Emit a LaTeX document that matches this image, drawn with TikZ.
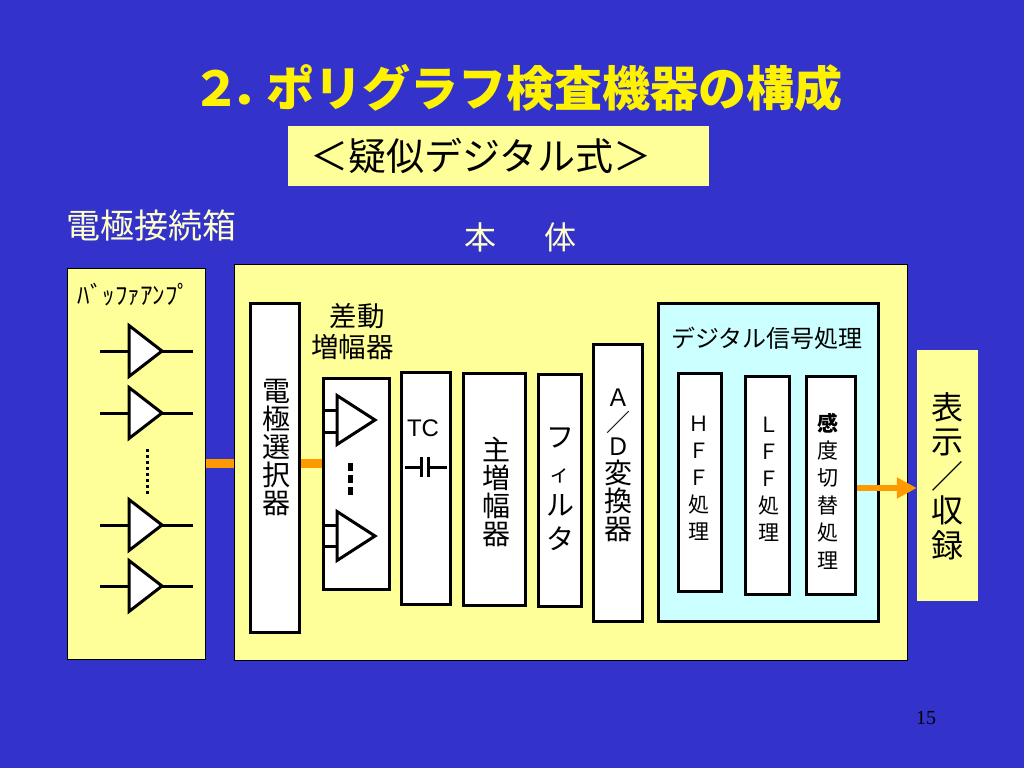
\documentclass[tikz,border=0pt]{standalone}
\usepackage{fontspec}
\setmainfont{Noto Sans CJK JP}
\newfontfamily\pagefont{Liberation Serif}
\newfontfamily\latinfont{Liberation Sans}
\usetikzlibrary{arrows.meta, shapes.geometric, positioning}
\definecolor{slidebg}{HTML}{3333CC}
\definecolor{paleyellow}{HTML}{FFFF99}
\definecolor{palecyan}{HTML}{CCFFFF}
\definecolor{linkorange}{HTML}{FF9900}
\definecolor{headtext}{HTML}{FFFFCC}
\tikzset{
  panel/.style={draw=black,line width=1pt,fill=paleyellow,inner sep=0pt},
  plain panel/.style={fill=paleyellow,inner sep=0pt},
  block/.style={draw=black,line width=3pt,fill=white,inner sep=0pt},
  amp/.style={draw=black,line width=3pt,fill=white,isosceles triangle,isosceles triangle apex angle=70,
    isosceles triangle stretches,inner sep=0pt,anchor=lower side},
  wire/.style={draw=black,line width=3pt},
  link/.style={draw=linkorange,line width=9pt},
  stack/.style 2 args={font=\fontsize{#1}{#2}\selectfont,align=center,inner sep=0pt}
}
\begin{document}
\begin{tikzpicture}[x=1pt,y=-1pt]
  \fill[slidebg] (0,0) rectangle (1024,768);
  % headings
  \node[inner sep=0pt,anchor=west,text=yellow,font=\fontsize{48}{50}\selectfont\bfseries] (title) at (192,88) {２\hspace{-10pt}．\hspace{-12pt}ポリグラフ検査機器の構成};
  \node[plain panel,minimum width=421pt,minimum height=60pt] (modebox) at (498.5,156) {};
  \node[stack={38}{40},anchor=west] (modetext) at (310,156) {＜疑似デジタル式＞};
  \node[stack={34}{36},text=headtext] (elechead) at (151,226) {電極接続箱};
  \node[stack={32}{34},text=headtext] (bodyhead) at (520.5,237) {本\hspace{48pt}体};
  % the two cases
  \node[panel,minimum width=138pt,minimum height=391pt] (elecbox) at (136,463.5) {};
  \node[panel,minimum width=673pt,minimum height=396pt] (bodybox) at (570.5,462) {};
  \node[stack={25}{27}] (buftext) at (134,295) {ﾊﾞｯﾌｧｱﾝﾌﾟ};
  % buffer amplifiers
  \foreach \n/\y in {1/351,2/413,3/525,4/586} {
    \coordinate (bufin\n) at (100,\y);
    \coordinate (bufout\n) at (193,\y);
    \draw[wire] (bufin\n) -- (bufout\n);
    \node[amp,minimum height=33pt,minimum width=51pt] (buf\n) at (127.5,\y) {};
  }
  \coordinate (buftop) at (147,449);
  \coordinate (bufbot) at (147,496);
  \draw[black,line width=3pt,dash pattern=on 3pt off 3pt] (buftop) -- (bufbot);
  % main chain
  \node[block,minimum width=49pt,minimum height=329pt] (selbox) at (275,468) {};
  \node[stack={28}{28}] (seltext) at (276,447) {電\\極\\選\\択\\器};
  \node[stack={27.5}{31}] (difftext) at (352.5,332) {\hspace*{9pt}差動\\増幅器};
  \node[block,minimum width=66pt,minimum height=211pt] (diffbox) at (356.5,484) {};
  \foreach \n/\y/\a/\b in {1/420/410/432,2/536/525/546} {
    \coordinate (diffa\n) at (322,\a);
    \coordinate (diffb\n) at (322,\b);
    \node[amp,minimum height=38pt,minimum width=49pt] (diff\n) at (335.5,\y) {};
    \draw[wire] (diffa\n) -- (diffa\n -| diff\n.lower side);
    \draw[wire] (diffb\n) -- (diffb\n -| diff\n.lower side);
  }
  \coordinate (difftop) at (350,463);
  \coordinate (diffbot) at (350,496);
  \draw[black,line width=5pt,dash pattern=on 8pt off 4pt] (difftop) -- (diffbot);
  \node[block,minimum width=49pt,minimum height=232pt] (tcbox) at (426,488.5) {};
  \node[inner sep=0pt,font=\latinfont\fontsize{24}{26}\selectfont] (tclabel) at (423,428) {TC};
  \coordinate (capa) at (405,467);
  \coordinate (capb) at (421,467);
  \coordinate (capc) at (428,467);
  \coordinate (capd) at (447,467);
  \draw[black,line width=3pt] (capa) -- (capb) (capc) -- (capd);
  \draw[black,line width=3pt] ([yshift=10pt]capb) -- ([yshift=-10pt]capb) ([yshift=10pt]capc) -- ([yshift=-10pt]capc);
  \node[block,minimum width=62pt,minimum height=232pt] (mainbox) at (494.5,489.5) {};
  \node[stack={28}{28}] (maintext) at (496,492) {主\\増\\幅\\器};
  \node[block,minimum width=43pt,minimum height=232pt] (filtbox) at (560,490.5) {};
  \node[stack={28}{34}] (filttext) at (560,489) {フ\\{\fontsize{21}{34}\selectfont ィ}\\ル\\タ};
  \node[block,minimum width=49pt,minimum height=277pt] (adbox) at (618,483) {};
  \node[stack={28}{28}] (adtext) at (618,465.5) {{\fontsize{24}{24}\selectfont Ａ}\\[-3.5pt]{\fontsize{24}{24}\selectfont ／}\\[-3.5pt]{\fontsize{24}{24}\selectfont Ｄ}\\変\\換\\器};
  % digital part
  \node[block,fill=palecyan,minimum width=220pt,minimum height=318pt] (digibox) at (768.5,462.5) {};
  \node[stack={24}{26}] (digitext) at (767,338) {デジタル信号処理};
  \node[block,minimum width=43pt,minimum height=218pt] (hfbox) at (700,482.5) {};
  \node[stack={21}{27}] (hftext) at (699,478) {Ｈ\\Ｆ\\Ｆ\\処\\理};
  \node[block,minimum width=44pt,minimum height=218pt] (lfbox) at (767.5,485.5) {};
  \node[stack={21}{27}] (lftext) at (769,479) {Ｌ\\Ｆ\\Ｆ\\処\\理};
  \node[block,minimum width=49pt,minimum height=218pt] (sensbox) at (831,485.5) {};
  \node[stack={21}{27.4}] (senstext) at (828,491) {{\bfseries 感}\\度\\切\\替\\処\\理};
  % output
  \node[plain panel,minimum width=61pt,minimum height=251pt] (dispbox) at (947.5,475.5) {};
  \node[stack={32}{34.5}] (disptext) at (947,476) {表\\示\\／\\収\\録};
  % links
  \draw[link] (elecbox.east) -- (elecbox.east -| bodybox.west);
  \draw[link] (elecbox.east -| selbox.east) -- (elecbox.east -| diffbox.west);
  \coordinate (arrowstart) at ([yshift=-2.5pt]sensbox.east);
  \draw[draw=linkorange,line width=6pt,-{Triangle[length=20pt,width=20pt]}] (arrowstart) -- (arrowstart -| dispbox.west);
  \node[inner sep=0pt,text=black,font=\pagefont\fontsize{20}{22}\selectfont] (pagenum) at (926,718) {15};
\end{tikzpicture}
\end{document}
